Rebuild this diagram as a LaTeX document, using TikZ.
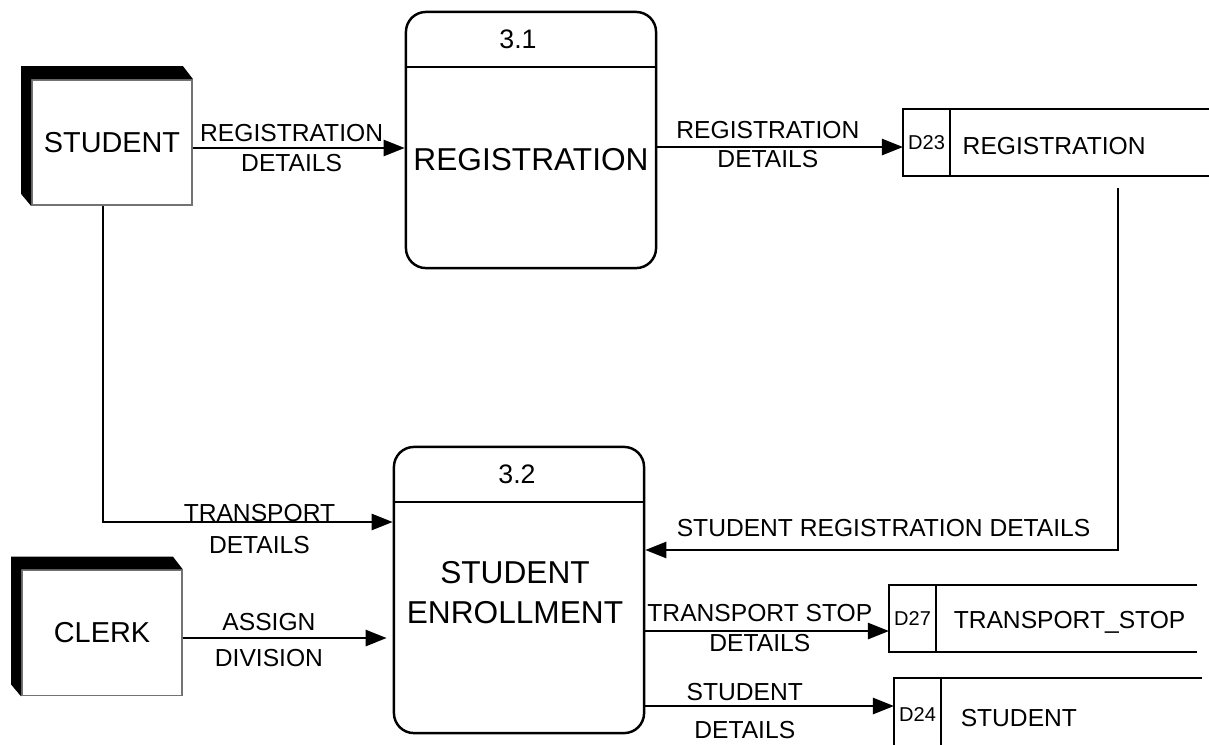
\documentclass[tikz,border=0pt]{standalone}
\usepackage{fontspec}
\setmainfont{Liberation Sans}
\usetikzlibrary{arrows.meta}

\begin{document}
\begin{tikzpicture}[x=0.01cm,y=-0.01cm,line join=miter,every node/.style={inner sep=1pt},
  ent/.style={draw=black!55,line width=0.5pt,fill=white,minimum width=1.6cm,minimum height=1.25cm,font=\fontsize{8.2}{9.8}\selectfont},
  proc/.style={draw,line width=0.7pt,rounded corners=0.2cm,minimum width=2.5cm},
  sid/.style={draw,line width=0.7pt,minimum width=0.47cm,inner sep=0pt,outer sep=0pt,font=\fontsize{5.7}{6.8}\selectfont},
  lbl/.style={align=center,inner sep=0pt,font=\fontsize{7}{8.4}\selectfont},
  flow/.style={line width=0.7pt,-{Triangle[length=2.1mm,width=1.6mm]}}]
  \useasboundingbox (0,0) rectangle (1209,744);
  % 外部实体
  \foreach \nm/\lab/\x/\y in {stu/STUDENT/112/142.5, clk/CLERK/102/633} {
    \node[ent] (\nm) at (\x,\y) {\lab};
    \fill ([shift={(-0.1cm,0.12cm)}]\nm.south west) -- ([shift={(-0.1cm,0.13cm)}]\nm.north west)
      -- ([shift={(-0.1cm,0.13cm)}]\nm.north east) -- (\nm.north east) -- (\nm.north west) -- (\nm.south west) -- cycle;
  }
  % 处理
  \foreach \nm/\num/\x/\y/\h/\dx in {p1/3.1/531/140/2.56cm/-0.13cm, p2/3.2/519/590/2.86cm/-0.02cm} {
    \node[proc,minimum height=\h] (\nm) at (\x,\y) {};
    \draw[line width=0.7pt] ([yshift=-0.56cm]\nm.north west) -- ([yshift=-0.56cm]\nm.north east);
    \node[font=\fontsize{7.6}{9}\selectfont] (\nm num) at ([xshift=\dx,yshift=-0.29cm]\nm.north) {\num};
  }
  \node[font=\fontsize{9}{11}\selectfont] (p1txt) at (531,160) {REGISTRATION};
  \node[align=center,font=\fontsize{9}{11.4}\selectfont] (p2txt) at (515,593) {STUDENT\\ENROLLMENT};
  % 数据存储
  \foreach \nm/\id/\lab/\x/\y/\xend/\hgt/\dx in {d23/D23/REGISTRATION/903/109/1215/67/0.12cm,
      d27/D27/TRANSPORT\_STOP/889/585/1197/67/0.17cm, d24/D24/STUDENT/894/678/1202/72/0.19cm} {
    \node[sid,minimum height=\hgt*0.01cm,anchor=north west] (\nm) at (\x,\y) {\id};
    \draw[line width=0.7pt] (\nm.north east) -- (\xend,\y) (\nm.south east) -- (\xend,{\y+\hgt});
    \node[anchor=west,inner sep=0pt,font=\fontsize{7}{8.4}\selectfont] (\nm name) at ([xshift=\dx,yshift=-0.04cm]\nm.east) {\lab};
  }
  % 数据流
  \coordinate (a1) at ([yshift=-0.055cm]stu.east);
  \draw[flow] (a1) -- (a1 -| p1.west) node[lbl,pos=0.466] (f1) {REGISTRATION\\DETAILS};
  \coordinate (a2) at ([yshift=-0.045cm]d23.west);
  \draw[flow] (p1.east |- a2) -- (a2) node[lbl,pos=0.45,yshift=0.025cm] (f2) {REGISTRATION\\DETAILS};
  \coordinate (a3) at ([yshift=0.68cm]p2.west);
  \draw[flow] ([xshift=-0.09cm]stu.south) |- (a3) node[lbl,pos=0.77,yshift=-0.07cm] (f3) {TRANSPORT\\[0.7pt]DETAILS};
  \coordinate (a4) at ([yshift=-0.05cm]clk.east);
  \draw[flow,shorten >=0.06cm] (a4) -- (a4 -| p2.west) node[lbl,pos=0.41,yshift=-0.02cm] (f4) {ASSIGN\\[1.8pt]DIVISION};
  \coordinate (a5) at (1118,188);
  \coordinate (a6) at ([yshift=0.4cm]p2.east);
  \draw[flow] (a5) |- (a6) node[lbl,pos=0.748,anchor=south,yshift=0.12cm] (f5) {STUDENT REGISTRATION DETAILS};
  \coordinate (a7) at ([yshift=-0.125cm]d27.west);
  \draw[flow] (p2.east |- a7) -- (a7) node[lbl,pos=0.47,yshift=0.03cm] (f6) {TRANSPORT STOP\\DETAILS};
  \coordinate (a8) at (d24.west |- 0,706);
  \draw[flow] (p2.east |- a8) -- (a8) node[lbl,pos=0.40,yshift=-0.05cm] (f7) {STUDENT\\[2.4pt]DETAILS};
\end{tikzpicture}
\end{document}
